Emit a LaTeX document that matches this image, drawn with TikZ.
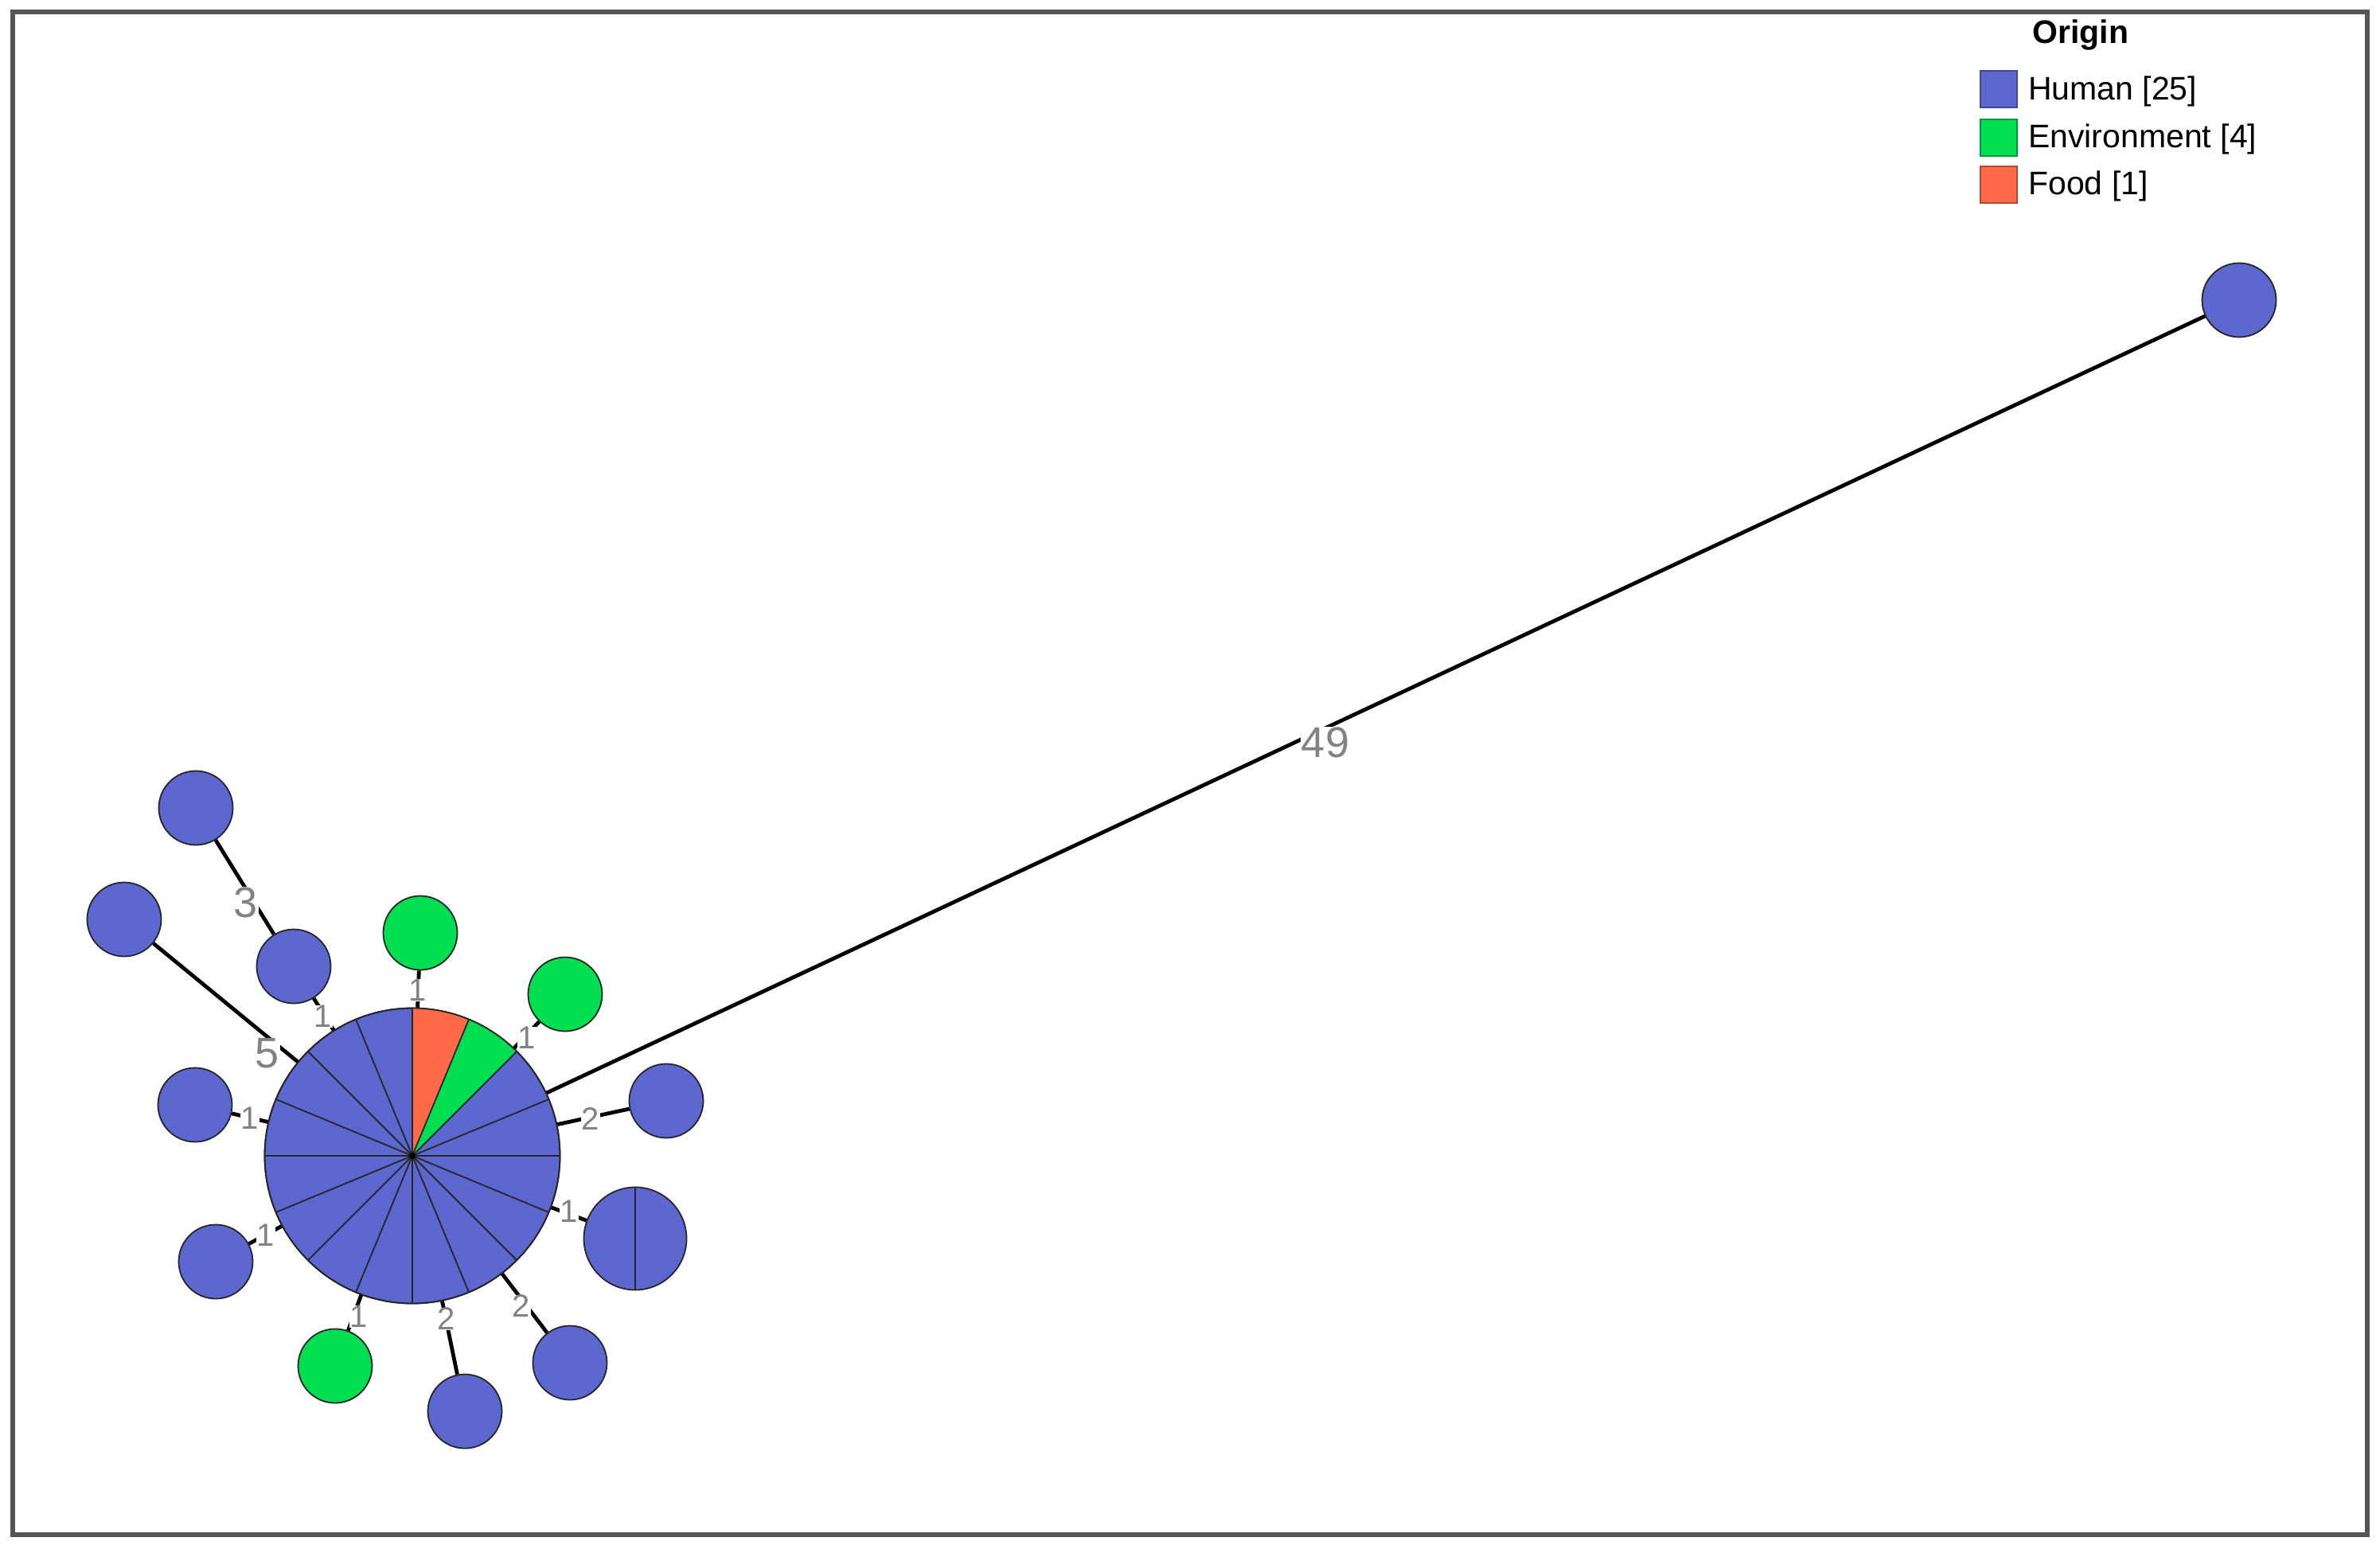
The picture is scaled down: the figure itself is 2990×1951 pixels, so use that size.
\documentclass[tikz,border=0pt]{standalone}
\usepackage{fontspec}
\setmainfont{Liberation Sans}
\usepackage{tikz}

\definecolor{human}{RGB}{92,103,208}
\definecolor{environ}{RGB}{0,222,82}
\definecolor{food}{RGB}{255,105,72}
\definecolor{labgray}{RGB}{130,130,130}
\definecolor{framegray}{RGB}{85,85,85}

\tikzset{
	st/.style={circle, draw=black!85, line width=1.8pt, inner sep=0pt, minimum size=93pt},
	hum/.style={st, fill=human},
	env/.style={st, fill=environ},
	link/.style={line width=4.8pt},
	wsmall/.style={text=labgray, fill=white, inner sep=0.5pt, font=\fontsize{40}{40}\selectfont},
	wbig/.style={wsmall, font=\fontsize{54}{54}\selectfont},
	key/.style={minimum size=46pt, inner sep=0pt, line width=1.5pt},
}

\begin{document}
\begin{tikzpicture}[x=1pt,y=-1pt]
		
		%%Location
		\useasboundingbox (0,0) rectangle (2990,1951);
		\draw[framegray, line width=6.5pt] (16,15) rectangle (2974,1928);
		
		%%Nodes
		\node[hum, minimum size=371pt] (st1) at (518,1452) {};
		\node[hum] (st2) at (2813,377) {};
		\node[hum] (st3) at (246,1015) {};
		\node[hum] (st4) at (369,1214) {};
		\node[hum] (st5) at (156,1155) {};
		\node[env] (st6) at (528,1172) {};
		\node[env] (st7) at (710,1249) {};
		\node[hum] (st8) at (837,1383) {};
		\node[hum, minimum size=129pt] (st9) at (798,1556) {};
		\node[hum] (st10) at (716,1712) {};
		\node[hum] (st11) at (584,1773) {};
		\node[env] (st12) at (421,1716) {};
		\node[hum] (st13) at (271,1585) {};
		\node[hum] (st14) at (245,1388) {};
		
		%%Pie
		\fill[food] (st1.center) -- ++(90:185.5pt) arc[start angle=90, end angle=67.5, radius=185.5pt] -- cycle;
		\fill[environ] (st1.center) -- ++(67.5:185.5pt) arc[start angle=67.5, end angle=45, radius=185.5pt] -- cycle;
		\foreach \a in {0,22.5,...,337.5}
			\draw[line width=1.8pt, black!85] (st1.center) -- ++(\a:185.5pt);
		\draw[line width=1.8pt, black!85] (st1.center) circle[radius=185.5pt];
		\fill (st1.center) circle[radius=4pt];
		\draw[line width=1.8pt, black!85] (st9.north) -- (st9.south);
		
		%%Links
		\draw[link] (st1) -- (st2);
		\draw[link] (st3) -- (st4);
		\draw[link] (st4) -- (st1);
		\draw[link] (st5) -- (st1);
		\draw[link] (st6) -- (st1);
		\draw[link] (st7) -- (st1);
		\draw[link] (st8) -- (st1);
		\draw[link] (st9) -- (st1);
		\draw[link] (st10) -- (st1);
		\draw[link] (st11) -- (st1);
		\draw[link] (st12) -- (st1);
		\draw[link] (st13) -- (st1);
		\draw[link] (st14) -- (st1);
		
		%%Weights
		\node[wbig] (w49) at (1665,933) {49};
		\node[wbig] (w3) at (309,1134) {3};
		\node[wbig] (w5) at (336,1323) {5};
		\node[wsmall] (w4) at (406,1277) {1};
		\node[wsmall] (w6) at (525,1244) {1};
		\node[wsmall] (w7) at (662,1304) {1};
		\node[wsmall] (w8) at (742,1406) {2};
		\node[wsmall] (w9) at (715,1522) {1};
		\node[wsmall] (w10) at (655,1641) {2};
		\node[wsmall] (w11) at (561,1657) {2};
		\node[wsmall] (w12) at (451,1654) {1};
		\node[wsmall] (w13) at (334,1552) {1};
		\node[wsmall] (w14) at (314,1405) {1};
		
		%%Legend
		\node[anchor=base, font=\bfseries\fontsize{41}{41}\selectfont] (origin) at (2614,55) {Origin};
		\node[key, fill=human, draw=human!70!black] (khum) at (2511,112) {};
		\node[key, fill=environ, draw=environ!70!black] (kenv) at (2511,173) {};
		\node[key, fill=food, draw=food!70!black] (kfood) at (2511,232) {};
		\node[anchor=base west, inner sep=0pt, font=\fontsize{41}{41}\selectfont] (thum) at (2548,125) {Human [25]};
		\node[anchor=base west, inner sep=0pt, font=\fontsize{41}{41}\selectfont] (tenv) at (2548,185) {Environment [4]};
		\node[anchor=base west, inner sep=0pt, font=\fontsize{41}{41}\selectfont] (tfood) at (2548,244) {Food [1]};
		
\end{tikzpicture}
\end{document}
